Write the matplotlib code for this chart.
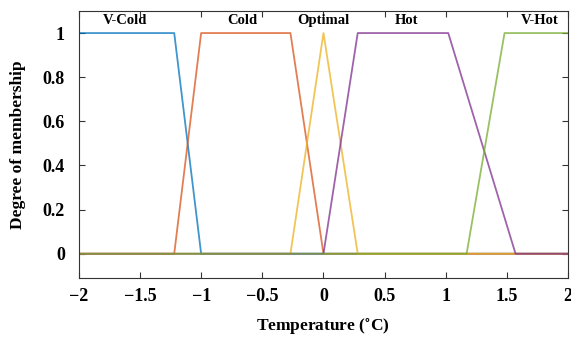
import numpy as np
import matplotlib.pyplot as plt

plt.rcParams['font.family'] = 'Liberation Serif'
plt.rcParams['font.weight'] = 'bold'
plt.rcParams['mathtext.fontset'] = 'stix'

# membership functions: breakpoints and memberships
names = ['V-Cold', 'Cold', 'Optimal', 'Hot', 'V-Hot']
xs = [
    [-2, -1.22, -1.0, 2],
    [-2, -1.22, -1.0, -0.27, 0.0, 2],
    [-2, -0.27, 0.0, 0.28, 2],
    [-2, 0.0, 0.28, 1.02, 1.57, 2],
    [-2, 1.17, 1.48, 2],
]
ys = [
    [1, 1, 0, 0],
    [0, 0, 1, 1, 0, 0],
    [0, 0, 1, 0, 0],
    [0, 0, 1, 1, 0, 0],
    [0, 0, 1, 1],
]
colors = ['#0072BD', '#D95319', '#EDB120', '#7E2F8E', '#77AC30']
label_x = [-1.62, -0.66, 0.0, 0.68, 1.77]

fig = plt.figure(figsize=(5.71, 3.38), dpi=100)
ax = fig.add_axes([0.138, 0.1775, 0.857, 0.79])
for x, y, c in zip(xs, ys, colors):
    ax.plot(x, y, color=c, lw=1.3, alpha=0.75)
for n, lx in zip(names, label_x):
    ax.text(lx, 1.055, n, ha='center', va='center', fontsize=10.5, fontweight='bold')

ax.set_xlim(-2, 2)
ax.set_ylim(-0.11, 1.1)
ax.set_xticks([-2, -1.5, -1, -0.5, 0, 0.5, 1, 1.5, 2])
ax.set_xticklabels(['\u22122', '\u22121.5', '\u22121', '\u22120.5', '0', '0.5', '1', '1.5', '2'])
ax.set_yticks([0, 0.2, 0.4, 0.6, 0.8, 1])
ax.set_yticklabels(['0', '0.2', '0.4', '0.6', '0.8', '1'])
ax.tick_params(direction='in', top=True, right=True, labelsize=13, length=4, color='#333333')
ax.tick_params(axis='y', pad=10)
ax.tick_params(axis='x', pad=7)
for s in ax.spines.values():
    s.set_color('#333333')
ax.set_xlabel('Temperature ($^{\\circ}$C)', fontsize=12.5, fontweight='bold', labelpad=8)
ax.set_ylabel('Degree of membership', fontsize=12.5, fontweight='bold', labelpad=12)
fig.savefig('out.png', dpi=100)
